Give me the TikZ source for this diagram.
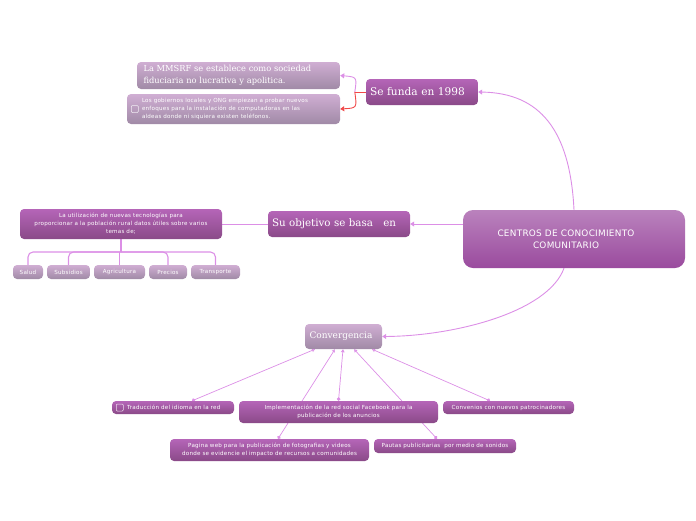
\documentclass[tikz,border=0pt]{standalone}
\usepackage{fontspec}
\setmainfont{DejaVu Serif}
\newfontfamily\sansf[LetterSpace=4]{DejaVu Sans}
\newfontfamily\censf[LetterSpace=3]{DejaVu Sans}
\usetikzlibrary{backgrounds,calc,arrows.meta}
\definecolor{dtop}{HTML}{B565B8}
\definecolor{dbot}{HTML}{8A4A88}
\definecolor{ltop}{HTML}{D0AED3}
\definecolor{lbot}{HTML}{A08AA6}
\definecolor{ctop}{HTML}{BA82BD}
\definecolor{cbot}{HTML}{9A4B9E}
\definecolor{lc}{HTML}{DC8FE6}
\definecolor{rc}{HTML}{F04848}
\newcommand{\cbox}{\tikz[baseline=-2pt]\draw[white,opacity=0.8,line width=0.5pt,rounded corners=1pt] (0pt,-3.5pt) rectangle (7pt,3.5pt);}
\tikzset{
  dark/.style={rounded corners=4pt, top color=dtop, bottom color=dbot, text=white, inner sep=0pt},
  light/.style={rounded corners=4pt, top color=ltop, bottom color=lbot, text=white, inner sep=0pt},
  cen/.style={rounded corners=10pt, top color=ctop, bottom color=cbot, text=white, inner sep=0pt},
  conn/.style={draw=lc, line width=0.9pt},
  redl/.style={draw=rc, line width=0.9pt},
  tip/.style={-{Triangle[length=4pt,width=5pt]}},
  dotend/.style={{Triangle[length=3pt,width=3.5pt,open]}-{Circle[length=3.5pt]}},
  tiny/.style={font=\sansf\fontsize{5.6}{8}\selectfont},
}
\begin{document}
\begin{tikzpicture}[x=1pt,y=-1pt]
\useasboundingbox (0,0) rectangle (696,520);
% central
\node[cen, minimum width=222pt, minimum height=58pt, align=center,
  font=\censf\fontsize{8.9}{12}\selectfont] (c) at (574,239)
  {\hspace*{-16pt}CENTROS DE CONOCIMIENTO\\\hspace*{-16pt}COMUNITARIO};
% top branch
\node[dark, minimum width=112pt, minimum height=26pt, text width=104pt, align=left,
  font=\fontsize{10.6}{12}\selectfont] (sf) at (422,92) {Se funda en 1998};
\node[light, minimum width=203pt, minimum height=27pt, text width=190pt, align=left,
  font=\fontsize{8.3}{12}\selectfont] (mm) at (238.5,75.5)
  {La MMSRF se establece como sociedad\\fiduciaria no lucrativa y apolitica.};
\node[light, minimum width=213pt, minimum height=30pt, tiny] (gob) at (233.5,109)
  {\parbox[c]{11pt}{\cbox}\parbox[c]{194pt}{\raggedright\fontsize{5.6}{8}\selectfont
  Los gobiernos locales y ONG empiezan a probar nuevos\\
  enfoques para la instalación de computadoras en las\\
  aldeas donde ni siquiera existen teléfonos.}};
% left branch
\node[dark, minimum width=142pt, minimum height=26pt, text width=134pt, align=left,
  font=\fontsize{10.3}{12}\selectfont] (obj) at (339,224) {Su objetivo se basa~~ en};
\node[dark, minimum width=202pt, minimum height=30pt, align=center, tiny] (u) at (121,224)
  {La utilización de nuevas tecnologías para\\
   proporcionar a la población rural datos útiles sobre varios\\
   temas de;};
\node[light, minimum width=30pt, minimum height=14pt, tiny] (s1) at (28,272) {Salud};
\node[light, minimum width=43pt, minimum height=14pt, tiny] (s2) at (68.5,272) {Subsidios};
\node[light, minimum width=51pt, minimum height=14pt, tiny] (s3) at (119.5,272) {Agricultura};
\node[light, minimum width=38pt, minimum height=14pt, tiny] (s4) at (168,272) {Precios};
\node[light, minimum width=49pt, minimum height=14pt, tiny] (s5) at (215.5,272) {Transporte};
% bottom branch
\node[light, minimum width=77pt, minimum height=25pt, text width=68pt, align=left,
  font=\fontsize{9}{11}\selectfont] (conv) at (343.5,336.5) {Convergencia};
\node[dark, minimum width=122pt, minimum height=13pt, tiny] (trad) at (173,407.5)
  {\parbox[c]{11pt}{\cbox}\parbox[c]{103pt}{Traducción del idioma en la red}};
\node[dark, minimum width=199pt, minimum height=22pt, align=center, tiny] (face) at (338.5,412)
  {Implementación de la red social Facebook para la\\publicación de los anuncios};
\node[dark, minimum width=131pt, minimum height=13pt, tiny] (conven) at (508.5,407.5)
  {Convenios con nuevos patrocinadores};
\node[dark, minimum width=199pt, minimum height=22pt, align=center, tiny] (pag) at (269.5,450)
  {Pagina web para la publicación de fotografias y videos\\donde se evidencie el impacto de recursos a comunidades};
\node[dark, minimum width=142pt, minimum height=14pt, tiny] (paut) at (445,446)
  {Pautas publicitarias~ por medio de sonidos};
\begin{pgfonlayer}{background}
% central -> se funda
\draw[conn,tip] (c.north) .. controls (570,130) and (540,93) .. (sf.east);
% se funda split
\coordinate (j) at ($(sf.west)+(-11,0)$);
\draw[redl] (sf.west) -- (j);
\draw[conn,tip] (j) .. controls (357,77) .. (mm.east);
\draw[redl,tip] (j) .. controls (357,108) .. (gob.east);
% central -> objetivo
\draw[conn,tip] (obj.east -| c.west) -- (obj.east);
\draw[conn,line width=0.6pt] (obj.west) -- (u.east);
% bracket
\coordinate (bj) at (121,252);
\draw[conn,line width=1.1pt] (u.south) -- (bj);
\draw[conn,line width=1.1pt,rounded corners=5pt] (s1.north) |- (bj);
\draw[conn,line width=1.1pt,rounded corners=5pt] (s2.north) |- (bj);
\draw[conn,line width=1.1pt] (s3.north) -- (s3.north |- bj);
\draw[conn,line width=1.1pt,rounded corners=5pt] (s4.north) |- (bj);
\draw[conn,line width=1.1pt,rounded corners=5pt] (s5.north) |- (bj);
% central -> convergencia
\draw[conn,tip] ($(c.south)+(-10,0)$) .. controls (548,312) and (455,336) .. (conv.east);
% convergencia -> children
\draw[conn,line width=0.7pt,dotend] ($(conv.south)+(-28.5,0)$) -- ($(trad.north)+(19,0)$);
\draw[conn,line width=0.7pt,dotend] ($(conv.south)+(-0.5,0)$) -- (face.north);
\draw[conn,line width=0.7pt,dotend] ($(conv.south)+(-8.5,0)$) -- ($(pag.north)+(8.5,0)$);
\draw[conn,line width=0.7pt,dotend] ($(conv.south)+(10.5,0)$) -- ($(paut.north)+(-8,0)$);
\draw[conn,line width=0.7pt,dotend] ($(conv.south)+(28.5,0)$) -- ($(conven.north)+(-18.5,0)$);
\end{pgfonlayer}
\end{tikzpicture}
\end{document}
